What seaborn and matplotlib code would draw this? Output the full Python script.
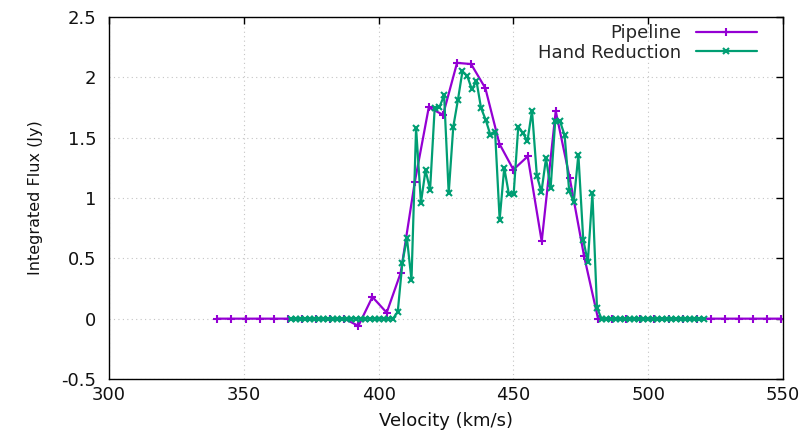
import matplotlib
matplotlib.use("Agg")
import matplotlib.pyplot as plt
import numpy as np
import pandas as pd
import seaborn as sns

# Pipeline spectrum: channel velocities (km/s) and integrated flux (Jy)
pipeline_velocity = [
    340.2, 345.4, 350.7, 355.9, 361.1, 366.4, 371.6, 376.8, 382.0, 387.3,
    392.5, 397.7, 403.0, 408.2, 413.4, 418.6, 423.9, 429.1, 434.3, 439.6,
    444.8, 450.0, 455.3, 460.5, 465.7, 470.9, 476.2, 481.4, 486.6, 491.9,
    497.1, 502.3, 507.6, 512.8, 518.0, 523.2, 528.5, 533.7, 538.9, 544.2,
    549.4,
]
pipeline_flux = [
    0.0, 0.0, 0.0, 0.0, 0.0, 0.0, 0.0, 0.0, 0.0, 0.0,
    -0.06, 0.18, 0.05, 0.38, 1.13, 1.75, 1.69, 2.12, 2.11, 1.91,
    1.45, 1.235, 1.345, 0.64, 1.72, 1.165, 0.52, 0.0, 0.0, 0.0,
    0.0, 0.0, 0.0, 0.0, 0.0, 0.0, 0.0, 0.0, 0.0, 0.0,
    0.0,
]

# Hand-reduced spectrum on its finer channel grid
hand_velocity = [
    367.5, 369.2, 370.9, 372.7, 374.4, 376.1, 377.8, 379.5, 381.3, 383.0,
    384.7, 386.4, 388.1, 389.9, 391.6, 393.3, 395.0, 396.7, 398.5, 400.2,
    401.9, 403.6, 405.3, 407.1, 408.8, 410.5, 412.2, 413.9, 415.7, 417.4,
    419.1, 420.8, 422.5, 424.3, 426.0, 427.7, 429.4, 431.1, 432.9, 434.6,
    436.3, 438.0, 439.7, 441.5, 443.2, 444.9, 446.6, 448.3, 450.1, 451.8,
    453.5, 455.2, 456.9, 458.7, 460.4, 462.1, 463.8, 465.5, 467.3, 469.0,
    470.7, 472.4, 474.1, 475.9, 477.6, 479.3, 481.0, 482.7, 484.5, 486.2,
    487.9, 489.6, 491.3, 493.1, 494.8, 496.5, 498.2, 499.9, 501.7, 503.4,
    505.1, 506.8, 508.5, 510.3, 512.0, 513.7, 515.4, 517.1, 518.9, 520.6,
]
hand_flux = [
    0.0, 0.0, 0.0, 0.0, 0.0, 0.0, 0.0, 0.0, 0.0, 0.0,
    0.0, 0.0, 0.0, 0.0, 0.0, 0.0, 0.0, 0.0, 0.0, 0.0,
    0.0, 0.0, 0.0, 0.055, 0.46, 0.67, 0.32, 1.58, 0.96, 1.23,
    1.07, 1.745, 1.75, 1.85, 1.04, 1.59, 1.81, 2.05, 2.01, 1.90,
    1.97, 1.745, 1.65, 1.52, 1.55, 0.82, 1.25, 1.035, 1.035, 1.59,
    1.54, 1.47, 1.725, 1.185, 1.05, 1.33, 1.08, 1.635, 1.635, 1.52,
    1.055, 0.97, 1.36, 0.655, 0.47, 1.04, 0.09, 0.0, 0.0, 0.0,
    0.0, 0.0, 0.0, 0.0, 0.0, 0.0, 0.0, 0.0, 0.0, 0.0,
    0.0, 0.0, 0.0, 0.0, 0.0, 0.0, 0.0, 0.0, 0.0, 0.0,
]

x_ticks = [300, 350, 400, 450, 500, 550]
x_tick_labels = ["300", "350", "400", "450", "500", "550"]
y_ticks = [-0.5, 0.0, 0.5, 1.0, 1.5, 2.0, 2.5]
y_tick_labels = ["-0.5", "0", "0.5", "1", "1.5", "2", "2.5"]

sns.set_theme(style="white")
plt.rcParams["font.family"] = ["DejaVu Sans"]
plt.rcParams["axes.unicode_minus"] = False

W, H = 808, 437
fig = plt.figure(figsize=(W / 100, H / 100), dpi=100)
left, right, top, bottom = 109, 783, 17, 379
ax = fig.add_axes([left / W, 1 - bottom / H, (right - left) / W, (bottom - top) / H])

pipe_df = pd.DataFrame({"velocity": pipeline_velocity, "flux": pipeline_flux})
hand_df = pd.DataFrame({"velocity": hand_velocity, "flux": hand_flux})

purple = "#9400d3"
green = "#009e73"

sns.lineplot(data=pipe_df, x="velocity", y="flux", ax=ax, color=purple,
             linewidth=1.6, marker="+", markersize=5.5, markeredgewidth=1.5,
             markeredgecolor=purple, label="Pipeline", sort=False, errorbar=None)
sns.lineplot(data=hand_df, x="velocity", y="flux", ax=ax, color=green,
             linewidth=1.6, marker="x", markersize=4.5, markeredgewidth=1.5,
             markeredgecolor=green, label="Hand Reduction", sort=False, errorbar=None)

ax.set_xlim(300, 550)
ax.set_ylim(-0.5, 2.5)
ax.set_xticks(x_ticks)
ax.set_xticklabels(x_tick_labels)
ax.set_yticks(y_ticks)
ax.set_yticklabels(y_tick_labels)

ax.grid(True, linestyle=(0, (1, 3)), color="#c4c4c4", linewidth=0.8)
ax.set_axisbelow(True)
for s in ax.spines.values():
    s.set_color("black")
    s.set_linewidth(1.0)
    s.set_visible(True)

ax.tick_params(axis="both", direction="in", top=True, right=True,
               length=5, width=1, color="black", labelsize=13, labelcolor="#111111")
ax.tick_params(axis="x", pad=5)
ax.tick_params(axis="y", pad=9)

ax.set_xlabel("Velocity (km/s)", fontsize=13, color="#111111", labelpad=6)
ax.set_ylabel("Integrated Flux (Jy)", fontsize=11.5, color="#111111", labelpad=13)

ax.legend(loc="upper right", bbox_to_anchor=(757 / W, 1 - 24 / H),
          bbox_transform=fig.transFigure, frameon=False, markerfirst=False,
          handlelength=3.4, handletextpad=0.8, borderpad=0, borderaxespad=0,
          labelspacing=0.1, fontsize=13)

fig.savefig("out.png", dpi=100)
